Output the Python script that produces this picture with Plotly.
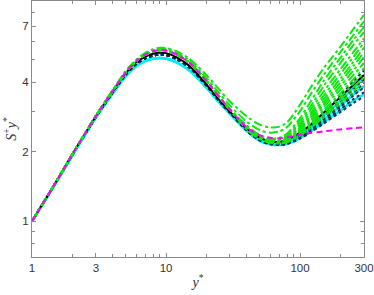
import math
import plotly.graph_objects as go

# ---- data ----
X_HEAD = [1, 1.5, 2, 3, 4, 5, 6, 7, 8, 9, 10, 12, 15, 20, 25, 30]
X_TAIL = [40, 50, 60, 70, 80, 100, 120, 150, 200, 250, 300]

HEAD_BLACK = [1, 1.47, 1.95, 2.85, 3.65, 4.38, 4.88, 5.17, 5.32, 5.37, 5.35, 5.13, 4.70, 3.92, 3.35, 2.98]
HEAD_GREEN = [1, 1.47, 1.95, 2.86, 3.67, 4.42, 4.95, 5.27, 5.45, 5.52, 5.50, 5.28, 4.85, 4.05, 3.45, 3.05]
HEAD_GREEN_UP1 = [1, 1.47, 1.95, 2.87, 3.70, 4.47, 5.02, 5.36, 5.56, 5.64, 5.63, 5.45, 5.05, 4.30, 3.72, 3.30]
HEAD_GREEN_UP2 = [1, 1.47, 1.95, 2.87, 3.69, 4.45, 4.99, 5.32, 5.51, 5.59, 5.58, 5.38, 4.96, 4.18, 3.58, 3.17]
HEAD_DARK = [1, 1.47, 1.94, 2.84, 3.62, 4.32, 4.80, 5.08, 5.22, 5.27, 5.25, 5.04, 4.63, 3.88, 3.32, 2.96]
HEAD_CYAN = [1, 1.46, 1.93, 2.82, 3.58, 4.25, 4.70, 4.95, 5.07, 5.10, 5.07, 4.88, 4.50, 3.80, 3.27, 2.92]

TAILS_GREEN = [
    [2.85, 2.62, 2.55, 2.57, 2.68, 3.20, 3.80, 4.60, 5.70, 6.80, 7.84],
    [2.70, 2.48, 2.42, 2.45, 2.56, 3.00, 3.55, 4.30, 5.40, 6.40, 7.35],
    [2.60, 2.36, 2.28, 2.30, 2.40, 2.80, 3.30, 4.05, 5.10, 6.10, 6.95],
    [2.58, 2.35, 2.27, 2.28, 2.37, 2.72, 3.15, 3.85, 4.85, 5.80, 6.60],
    [2.57, 2.34, 2.26, 2.27, 2.34, 2.65, 3.05, 3.65, 4.55, 5.40, 6.20],
    [2.56, 2.33, 2.25, 2.25, 2.32, 2.60, 2.95, 3.50, 4.35, 5.15, 5.95],
    [2.55, 2.32, 2.24, 2.24, 2.30, 2.55, 2.88, 3.38, 4.15, 4.90, 5.65],
    [2.55, 2.31, 2.23, 2.23, 2.28, 2.52, 2.82, 3.28, 4.00, 4.70, 5.40],
    [2.54, 2.30, 2.22, 2.22, 2.27, 2.50, 2.78, 3.20, 3.85, 4.50, 5.15],
    [2.53, 2.30, 2.22, 2.21, 2.25, 2.46, 2.72, 3.12, 3.72, 4.30, 4.85],
    [2.52, 2.29, 2.21, 2.20, 2.24, 2.43, 2.67, 3.03, 3.58, 4.12, 4.60],
    [2.52, 2.28, 2.20, 2.19, 2.22, 2.40, 2.62, 2.95, 3.45, 3.95, 4.40],
    [2.51, 2.28, 2.20, 2.18, 2.21, 2.38, 2.58, 2.88, 3.35, 3.80, 4.20],
    [2.50, 2.27, 2.19, 2.17, 2.20, 2.35, 2.54, 2.82, 3.25, 3.65, 4.03],
]
TAILS_DARK = [
    [2.50, 2.27, 2.19, 2.18, 2.22, 2.40, 2.62, 2.95, 3.50, 4.05, 4.50],
    [2.49, 2.26, 2.18, 2.17, 2.21, 2.38, 2.58, 2.90, 3.40, 3.90, 4.30],
    [2.49, 2.26, 2.18, 2.17, 2.20, 2.36, 2.55, 2.85, 3.30, 3.75, 4.12],
    [2.48, 2.25, 2.17, 2.16, 2.19, 2.34, 2.52, 2.80, 3.22, 3.62, 3.95],
    [2.48, 2.25, 2.17, 2.15, 2.18, 2.32, 2.49, 2.75, 3.13, 3.50, 3.80],
    [2.47, 2.24, 2.16, 2.14, 2.17, 2.30, 2.46, 2.70, 3.05, 3.38, 3.62],
    [2.47, 2.24, 2.16, 2.14, 2.16, 2.28, 2.43, 2.65, 2.97, 3.25, 3.47],
]
TAILS_CYAN = [
    [2.48, 2.25, 2.17, 2.16, 2.20, 2.36, 2.56, 2.86, 3.32, 3.78, 4.15],
    [2.47, 2.24, 2.16, 2.15, 2.18, 2.32, 2.50, 2.76, 3.16, 3.55, 3.85],
    [2.46, 2.23, 2.15, 2.14, 2.16, 2.29, 2.45, 2.68, 3.02, 3.33, 3.55],
]
TAIL_BLACK = [2.52, 2.30, 2.22, 2.21, 2.25, 2.42, 2.62, 2.95, 3.45, 3.90, 4.30]
TAIL_MAGENTA = [2.55, 2.36, 2.30, 2.29, 2.31, 2.37, 2.41, 2.45, 2.50, 2.53, 2.55]

X_TICKS = [1, 3, 10, 100, 300]
X_MINOR = [2, 4, 5, 6, 7, 8, 9, 20, 30, 40, 50, 60, 70, 80, 90, 200]
Y_TICKS = [1, 2, 4, 7]
Y_MINOR = [0.8, 0.9, 3, 5, 6, 8]

# ---- figure ----
X_ALL = X_HEAD + X_TAIL
fig = go.Figure()

def add(head, tail, color, dash, width):
    fig.add_trace(go.Scatter(
        x=X_ALL, y=head + tail, mode="lines",
        line=dict(color=color, dash=dash, width=width, shape="spline", smoothing=0.8),
        showlegend=False, hoverinfo="skip"))

for t in TAILS_CYAN:
    add(HEAD_CYAN, t, "#00f0f0", "solid", 2.5)
for t in TAILS_DARK:
    add(HEAD_DARK, t, "#0b2e55", "dot", 2)
add(HEAD_BLACK, TAIL_BLACK, "#000000", "solid", 2)
for i, t in enumerate(TAILS_GREEN):
    head = HEAD_GREEN_UP1 if i == 0 else (HEAD_GREEN_UP2 if i == 1 else HEAD_GREEN)
    add(head, t, "#12e612", "dashdot", 2)
add(HEAD_GREEN, TAIL_MAGENTA, "#ff00ff", "6px,4px", 2)

axis_common = dict(
    type="log", showline=True, linecolor="#8a8a8a", linewidth=1,
    mirror="ticks", ticks="inside", ticklen=4, tickcolor="#8a8a8a",
    showgrid=False, zeroline=False,
    tickfont=dict(family="Liberation Sans, Arial, sans-serif", size=11.5, color="#333333"),
)

fig.update_layout(
    width=374, height=295,
    margin=dict(l=32, r=10, t=1, b=38, autoexpand=False),
    paper_bgcolor="white", plot_bgcolor="white",
    xaxis=dict(
        **axis_common,
        range=[0, math.log10(300)],
        tickmode="array", tickvals=X_TICKS, ticktext=[str(v) for v in X_TICKS],
        minor=dict(tickmode="array", tickvals=X_MINOR, ticks="inside", ticklen=3, tickcolor="#8a8a8a"),
        title=dict(text="<i>y</i><sup>*</sup>", standoff=4,
                   font=dict(family="Liberation Serif, Times New Roman, serif", size=14, color="#333333")),
    ),
    yaxis=dict(
        **axis_common,
        range=[math.log10(0.7), math.log10(9)],
        tickmode="array", tickvals=Y_TICKS, ticktext=[str(v) for v in Y_TICKS],
        minor=dict(tickmode="array", tickvals=Y_MINOR, ticks="inside", ticklen=3, tickcolor="#8a8a8a"),
        title=dict(text="<i>S</i><sup>+</sup><i>y</i><sup>*</sup>", standoff=2,
                   font=dict(family="Liberation Serif, Times New Roman, serif", size=14, color="#333333")),
    ),
)

fig.write_html("out.html", config={"displayModeBar": False, "staticPlot": True},
               post_script="document.body.style.margin='0';document.body.style.padding='0';")
